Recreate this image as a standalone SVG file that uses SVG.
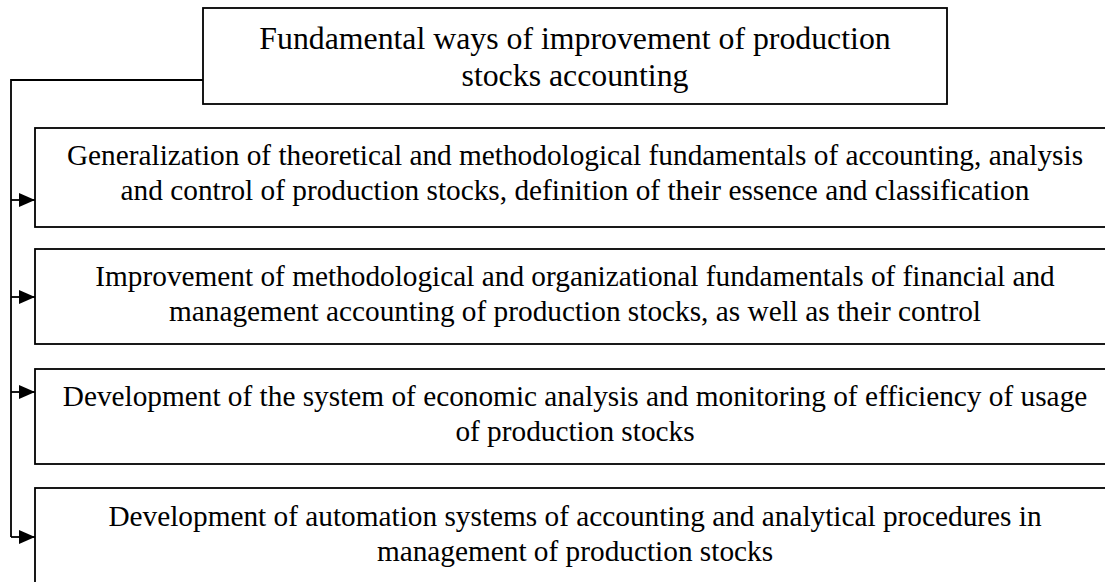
<svg xmlns="http://www.w3.org/2000/svg" width="1105" height="582" viewBox="0 0 1105 582">
<style>
.box{fill:#fff;stroke:#000;stroke-width:1.8}
.t{font-family:'Liberation Serif','Times New Roman',serif;font-size:29.3px;fill:#000;text-anchor:middle}
.tt{font-size:31.8px}
.c{fill:none;stroke:#000;stroke-width:1.8}
</style>
<defs>
<marker id="ah" markerWidth="16" markerHeight="14" refX="16" refY="7" orient="auto" markerUnits="userSpaceOnUse">
<path d="M0,0 L16,7 L0,14 Z" fill="#000"/>
</marker>
</defs>
<rect width="1105" height="582" fill="#fff"/>
<g id="top">
<rect class="box" x="203" y="8" width="744" height="96"/>
<text class="t tt" x="575" y="49">Fundamental ways of improvement of production</text>
<text class="t tt" x="575" y="86">stocks accounting</text>
</g>
<g id="n1">
<rect class="box" x="35" y="128" width="1080" height="99"/>
<text class="t" x="575" y="165">Generalization of theoretical and methodological fundamentals of accounting, analysis</text>
<text class="t" x="575" y="200">and control of production stocks, definition of their essence and classification</text>
</g>
<g id="n2">
<rect class="box" x="35" y="249" width="1080" height="95"/>
<text class="t" x="575" y="286">Improvement of methodological and organizational fundamentals of financial and</text>
<text class="t" x="575" y="321">management accounting of production stocks, as well as their control</text>
</g>
<g id="n3">
<rect class="box" x="35" y="369" width="1080" height="95"/>
<text class="t" x="575" y="406">Development of the system of economic analysis and monitoring of efficiency of usage</text>
<text class="t" x="575" y="441">of production stocks</text>
</g>
<g id="n4">
<rect class="box" x="35" y="488" width="1080" height="110"/>
<text class="t" x="575" y="526">Development of automation systems of accounting and analytical procedures in</text>
<text class="t" x="575" y="561">management of production stocks</text>
</g>
<g id="connectors">
<path class="c" d="M203,80 H11 V537"/>
<path class="c" d="M11,200 H35" marker-end="url(#ah)"/>
<path class="c" d="M11,297 H35" marker-end="url(#ah)"/>
<path class="c" d="M11,392 H35" marker-end="url(#ah)"/>
<path class="c" d="M11,537 H35" marker-end="url(#ah)"/>
</g>
</svg>
